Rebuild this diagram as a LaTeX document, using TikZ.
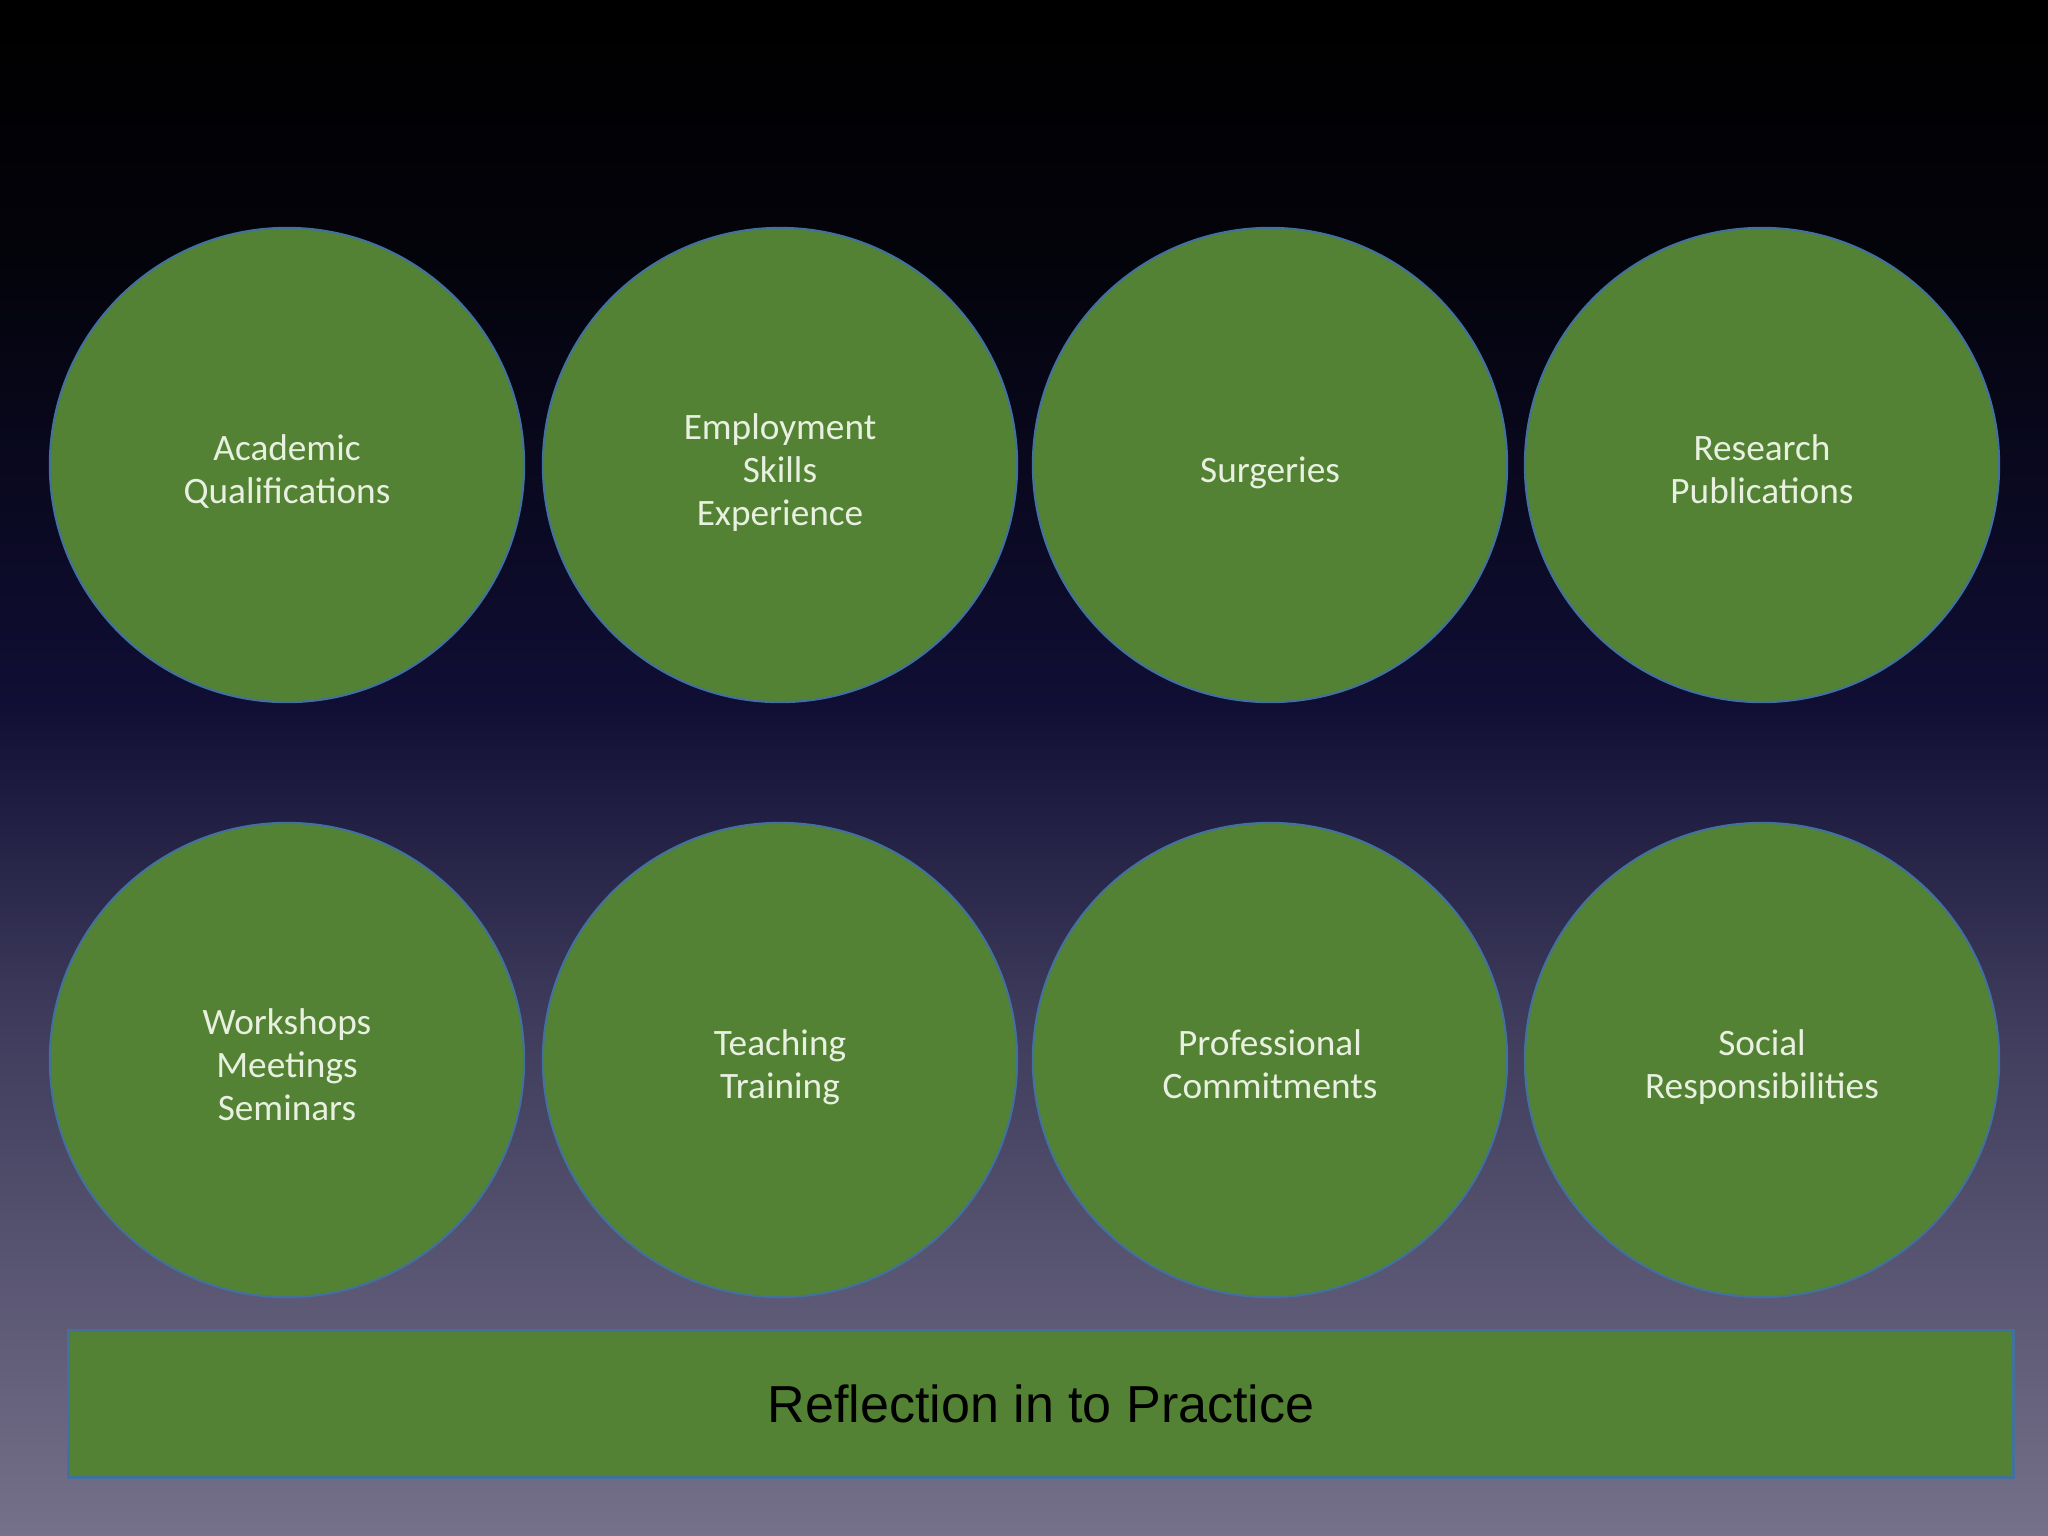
\documentclass[tikz,border=0pt]{standalone}
\usepackage{fontspec}
\setmainfont{Carlito}
\newfontfamily\bannerfont{Liberation Sans}
\usepackage{xcolor}
\usepackage{tikz}
\usetikzlibrary{positioning,calc}
\definecolor{cpgreen}{RGB}{84,130,53}
\definecolor{cpedge}{RGB}{65,113,156}
\definecolor{cptext}{RGB}{232,240,224}
\definecolor{bgbot}{RGB}{117,113,138}
\definecolor{bglow}{RGB}{60,57,90}
\definecolor{bgmid}{RGB}{16,14,52}
\definecolor{bgtop}{RGB}{3,3,10}
\pgfdeclareverticalshading{slidebg}{100bp}{color(0bp)=(bgbot); color(25bp)=(bgbot);
  color(42.4bp)=(bglow); color(52.2bp)=(bgmid); color(66.9bp)=(bgtop);
  color(75bp)=(black); color(100bp)=(black)}

\begin{document}
\begin{tikzpicture}[x=0.01cm, y=-0.01cm,
  bubble/.style={circle, draw=cpedge, line width=0.6pt, fill=cpgreen, minimum size=4.74cm,
    inner sep=0pt, text width=4.2cm, align=center, text=cptext, font=\fontsize{10.6}{12.2}\selectfont,
    execute at begin node={\rule{0pt}{12.4pt}}, execute at end node={\rule[-2.5pt]{0pt}{2.5pt}}},
  banner/.style={rectangle, draw=cpedge, line width=0.8pt, fill=cpgreen, minimum width=19.44cm,
    minimum height=1.47cm, inner sep=0pt, font=\bannerfont\fontsize{14.8}{17}\selectfont}]
  \useasboundingbox (0,0) rectangle (2048,1536);
  \shade[shading=slidebg] (0,0) rectangle (2048,1536);
  % upper row
  \foreach \n/\x/\txt in {acad/287/{Academic\\Qualifications},
                          empl/780/{Employment\\Skills\\Experience},
                          surg/1270/{Surgeries},
                          resr/1762/{Research\\Publications}}
    \node[bubble] (\n) at (\x,465) {\txt};
  % lower row
  \foreach \n/\x/\txt in {work/287/{Workshops\\Meetings\\Seminars},
                          teach/780/{Teaching\\Training},
                          prof/1270/{Professional\\Commitments},
                          soc/1762/{Social\\Responsibilities}}
    \node[bubble] (\n) at (\x,1060) {\txt};
  \node[banner] (refl) at (1041,1404) {Reflection in to Practice};
\end{tikzpicture}
\end{document}
